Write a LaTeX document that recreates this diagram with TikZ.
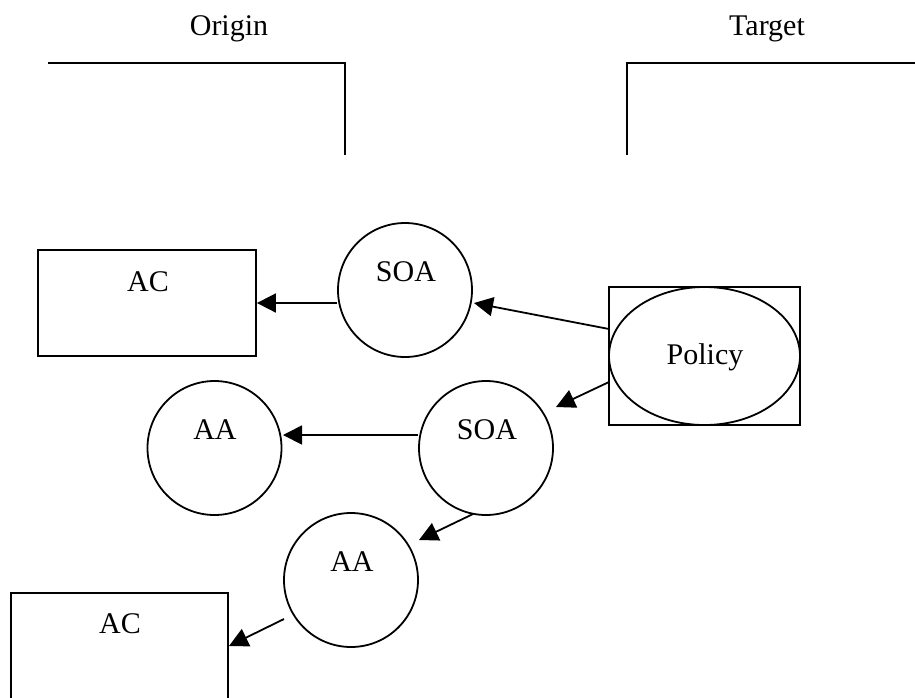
\documentclass[tikz,border=0pt]{standalone}
\usepackage{fontspec}
\setmainfont{Liberation Serif}
\usetikzlibrary{arrows.meta,calc,shapes.geometric}
\begin{document}
\begin{tikzpicture}[x=1pt,y=-1pt, line width=1.8pt,
  circ/.style={draw,circle,minimum size=134pt,inner sep=0pt},
  boxn/.style={draw,rectangle,inner sep=0pt},
  lbl/.style={font=\fontsize{30}{36}\selectfont,anchor=base,inner sep=0pt},
  arr/.style={-{Triangle[length=19pt,width=19pt]}}]
\useasboundingbox (0,0) rectangle (915,697);
\clip (0,0) rectangle (915,697);
% headings
\node[lbl] (origin) at (229,35) {Origin};
\node[lbl] (target) at (767,35) {Target};
% brackets
\draw (48,63) -- (345,63) -- (345,155);
\draw (627,155) -- (627,63) -- (920,63);
% nodes
\node[boxn,minimum width=218pt,minimum height=106pt] (ac1) at (147,303) {};
\node[lbl] (ac1t) at (148,291) {AC};
\node[circ] (soa1) at (405,290) {};
\node[lbl] (soa1t) at (406,281) {SOA};
\node[boxn,minimum width=191pt,minimum height=138pt] (polbox) at (704.5,356) {};
\node[draw,ellipse,minimum width=191pt,minimum height=138pt,inner sep=0pt] (pol) at (704.5,356) {};
\node[lbl] (polt) at (705,364) {Policy};
\node[circ] (soa2) at (486,448) {};
\node[lbl] (soa2t) at (487,439) {SOA};
\node[circ] (aa1) at (214.5,448) {};
\node[lbl] (aa1t) at (215,439) {AA};
\node[circ] (aa2) at (351,580) {};
\node[lbl] (aa2t) at (352,571) {AA};
\node[boxn,minimum width=217pt,minimum height=130pt] (ac2) at (119.5,658) {};
\node[lbl] (ac2t) at (120,633) {AC};
% connector end points
\coordinate (s1a) at (337,303);
\coordinate (p1a) at (609,329);
\coordinate (p1b) at (474,303);
\coordinate (p2a) at (609,382);
\coordinate (p2b) at (556,407);
\coordinate (s2a) at (418,435);
\coordinate (a1b) at (283,435);
\coordinate (s2b) at (473,514);
\coordinate (a2b) at (419,540);
\coordinate (a2a) at (284,619);
\coordinate (c2b) at (229,646);
% connectors
\draw[arr] (s1a) -- (ac1.east);
\draw[arr] (p1a) -- (p1b);
\draw[arr] (p2a) -- (p2b);
\draw[arr] (s2a) -- (a1b);
\draw[arr] (s2b) -- (a2b);
\draw[arr] (a2a) -- (c2b);
\end{tikzpicture}
\end{document}
